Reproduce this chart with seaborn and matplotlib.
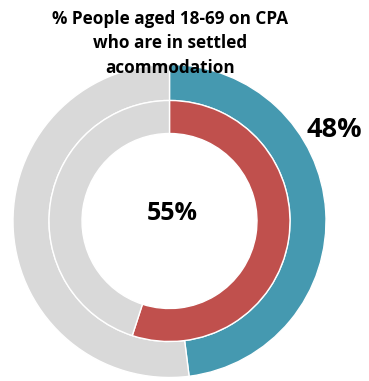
import matplotlib
matplotlib.use("Agg")
import matplotlib.pyplot as plt
import seaborn as sns

# data
outer_vals = [48, 52]
inner_vals = [55, 45]
outer_colors = ["#4599b0", "#d9d9d9"]
inner_colors = ["#c0504d", "#d9d9d9"]
title_lines = ["% People aged 18-69 on CPA", "who are in settled", "acommodation"]

sns.set_theme(style="white")
plt.rcParams['font.family'] = ['Open Sans', 'DejaVu Sans']

fig = plt.figure(figsize=(3.69, 3.81), dpi=100)
ax = fig.add_axes([0, 0, 1, 1])

# coordinates in pixels, centre of the donut at origin
ax.pie(outer_vals, colors=outer_colors, radius=156.5, startangle=90, counterclock=False,
       wedgeprops=dict(width=36, edgecolor="white", linewidth=1))
ax.pie(inner_vals, colors=inner_colors, radius=120.5, startangle=90, counterclock=False,
       wedgeprops=dict(width=33, edgecolor="white", linewidth=1))

ax.set_xlim(-169.5, 199.5)
ax.set_ylim(-160, 221)
ax.set_aspect("equal")
ax.axis("off")

ax.text(3, 8, f"{inner_vals[0]}%", ha="center", va="center", fontsize=18, fontweight="bold", color="black")
ax.text(165, 91, f"{outer_vals[0]}%", ha="center", va="center", fontsize=19.5, fontweight="bold", color="black")

for i, line in enumerate(title_lines):
    ax.text(1, 202 - i * 24.5, line, ha="center", va="center", fontsize=12.3, fontweight="bold", color="black")

fig.savefig("out.png", dpi=100)
